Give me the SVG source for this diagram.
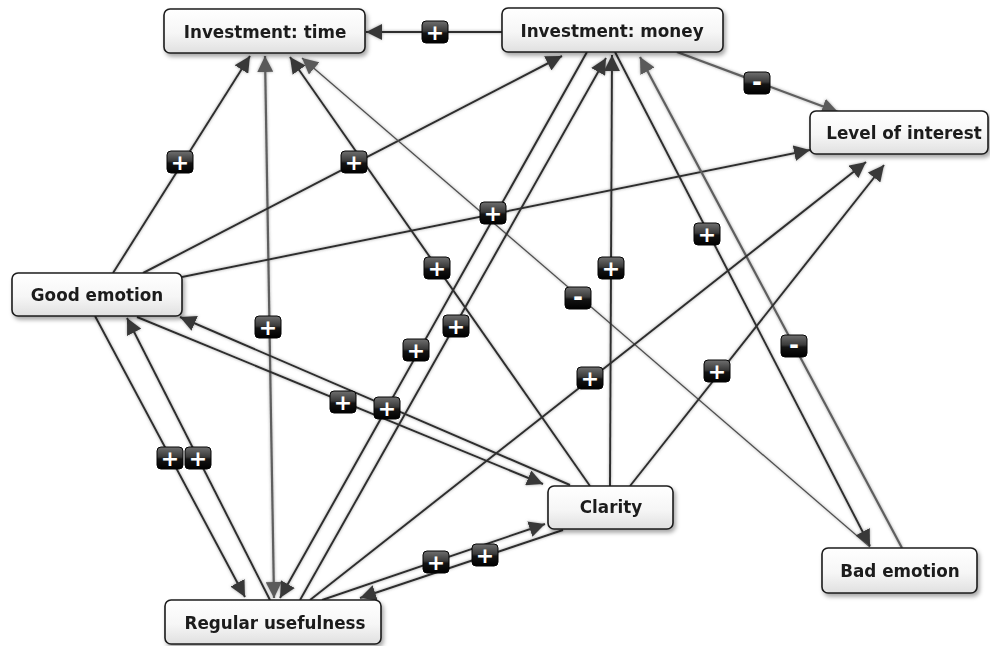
<svg xmlns="http://www.w3.org/2000/svg" width="990" height="646" viewBox="0 0 990 646">
  <defs>
    <style>
      .edge { fill: none; stroke: #2e2e2e; stroke-width: 2; marker-end: url(#arrow); }
      .edge.gray { stroke: #5e5e5e; stroke-width: 2.2; marker-end: url(#arrowGray); }
      .edge.thin { stroke: #505050; stroke-width: 1.3; marker-end: url(#arrowGray); }
      .edge.both { marker-start: url(#arrowGray); }
      .node rect { fill: url(#nodeFill); stroke: #1c1c1c; stroke-width: 1.6; }
      .node text { font-family: "DejaVu Sans", Verdana, sans-serif; font-weight: bold; font-size: 16.8px; fill: #1b1b1b; text-anchor: middle; }
      .badge rect { fill: url(#badgeFill); stroke: #050505; stroke-width: 1; }
      .badge text { font-family: "DejaVu Sans", sans-serif; font-weight: bold; font-size: 22px; fill: #fff; text-anchor: middle; }
      .badge text.minus { font-size: 24px; }
    </style>
    <linearGradient id="nodeFill" x1="0" y1="0" x2="0" y2="1">
      <stop offset="0" stop-color="#ffffff"/>
      <stop offset="0.55" stop-color="#f6f6f6"/>
      <stop offset="1" stop-color="#e0e0e0"/>
    </linearGradient>
    <linearGradient id="badgeFill" x1="0" y1="0" x2="0" y2="1">
      <stop offset="0" stop-color="#707070"/>
      <stop offset="0.45" stop-color="#3a3a3a"/>
      <stop offset="0.55" stop-color="#141414"/>
      <stop offset="1" stop-color="#000"/>
    </linearGradient>
    <filter id="halo" x="-5%" y="-5%" width="110%" height="110%">
      <feGaussianBlur in="SourceAlpha" stdDeviation="1.5" result="b"/>
      <feFlood flood-color="#8a8a8a" flood-opacity="0.8"/>
      <feComposite in2="b" operator="in" result="g"/>
      <feMerge><feMergeNode in="g"/><feMergeNode in="SourceGraphic"/></feMerge>
    </filter>
    <filter id="shadow" x="-10%" y="-20%" width="125%" height="150%">
      <feDropShadow dx="2" dy="3" stdDeviation="2" flood-color="#000" flood-opacity="0.35"/>
    </filter>
    <marker id="arrow" markerUnits="userSpaceOnUse" markerWidth="18" markerHeight="16" refX="16" refY="8" orient="auto-start-reverse">
      <path d="M0,0 L16,8 L0,16 z" fill="#383838"/>
    </marker>
    <marker id="arrowGray" markerUnits="userSpaceOnUse" markerWidth="18" markerHeight="16" refX="16" refY="8" orient="auto-start-reverse">
      <path d="M0,0 L16,8 L0,16 z" fill="#5a5a5a"/>
    </marker>
  </defs>

  <rect width="990" height="646" fill="#fff"/>

  <!-- connectors -->
  <g id="connectors" filter="url(#halo)">
    <path class="edge" d="M502,32 L366,32"/>
    <path class="edge gray" d="M677,52 L838,112"/>
    <path class="edge" d="M113,273 L250,56"/>
    <path class="edge gray both" d="M274,598 L265,56"/>
    <path class="edge" d="M590,486 L290,57"/>
    <path class="edge" d="M143,273 L562,56"/>
    <path class="edge" d="M182,277 L810,150"/>
    <path class="edge thin" d="M870,547 L302,58"/>
    <path class="edge" d="M610,486 L612,55"/>
    <path class="edge" d="M615,52 L870,546"/>
    <path class="edge gray" d="M902,548 L640,57"/>
    <path class="edge" d="M587,52 L280,598"/>
    <path class="edge" d="M300,600 L606,58"/>
    <path class="edge" d="M310,600 L866,162"/>
    <path class="edge" d="M630,486 L884,165"/>
    <path class="edge" d="M137,317 L543,484"/>
    <path class="edge" d="M570,485 L180,317"/>
    <path class="edge" d="M95,316 L245,597"/>
    <path class="edge" d="M270,600 L127,318"/>
    <path class="edge" d="M322,600 L545,524"/>
    <path class="edge" d="M563,530 L360,598"/>
  </g>

  <!-- polarity badges on the connectors -->
  <g id="badges">
    <g class="badge" transform="translate(435,32)"><rect x="-13" y="-11" width="26" height="22" rx="4"/><text y="8">+</text></g>
    <g class="badge" transform="translate(757,83)"><rect x="-13" y="-11" width="26" height="22" rx="4"/><text class="minus" y="7">-</text></g>
    <g class="badge" transform="translate(180,162)"><rect x="-13" y="-11" width="26" height="22" rx="4"/><text y="8">+</text></g>
    <g class="badge" transform="translate(268,327)"><rect x="-13" y="-11" width="26" height="22" rx="4"/><text y="8">+</text></g>
    <g class="badge" transform="translate(437,268)"><rect x="-13" y="-11" width="26" height="22" rx="4"/><text y="8">+</text></g>
    <g class="badge" transform="translate(354,162)"><rect x="-13" y="-11" width="26" height="22" rx="4"/><text y="8">+</text></g>
    <g class="badge" transform="translate(493,213)"><rect x="-13" y="-11" width="26" height="22" rx="4"/><text y="8">+</text></g>
    <g class="badge" transform="translate(578,298)"><rect x="-13" y="-11" width="26" height="22" rx="4"/><text class="minus" y="7">-</text></g>
    <g class="badge" transform="translate(611,268)"><rect x="-13" y="-11" width="26" height="22" rx="4"/><text y="8">+</text></g>
    <g class="badge" transform="translate(707,234)"><rect x="-13" y="-11" width="26" height="22" rx="4"/><text y="8">+</text></g>
    <g class="badge" transform="translate(794,346)"><rect x="-13" y="-11" width="26" height="22" rx="4"/><text class="minus" y="7">-</text></g>
    <g class="badge" transform="translate(416,350)"><rect x="-13" y="-11" width="26" height="22" rx="4"/><text y="8">+</text></g>
    <g class="badge" transform="translate(456,326)"><rect x="-13" y="-11" width="26" height="22" rx="4"/><text y="8">+</text></g>
    <g class="badge" transform="translate(590,378)"><rect x="-13" y="-11" width="26" height="22" rx="4"/><text y="8">+</text></g>
    <g class="badge" transform="translate(717,371)"><rect x="-13" y="-11" width="26" height="22" rx="4"/><text y="8">+</text></g>
    <g class="badge" transform="translate(343,402)"><rect x="-13" y="-11" width="26" height="22" rx="4"/><text y="8">+</text></g>
    <g class="badge" transform="translate(387,408)"><rect x="-13" y="-11" width="26" height="22" rx="4"/><text y="8">+</text></g>
    <g class="badge" transform="translate(170,458)"><rect x="-13" y="-11" width="26" height="22" rx="4"/><text y="8">+</text></g>
    <g class="badge" transform="translate(198,458)"><rect x="-13" y="-11" width="26" height="22" rx="4"/><text y="8">+</text></g>
    <g class="badge" transform="translate(436,562)"><rect x="-13" y="-11" width="26" height="22" rx="4"/><text y="8">+</text></g>
    <g class="badge" transform="translate(485,555)"><rect x="-13" y="-11" width="26" height="22" rx="4"/><text y="8">+</text></g>
  </g>

  <!-- nodes -->
  <g id="investment-time" class="node" filter="url(#shadow)">
    <rect x="164" y="9" width="201" height="44" rx="6"/>
    <text x="265" y="38">Investment: time</text>
  </g>
  <g id="investment-money" class="node" filter="url(#shadow)">
    <rect x="502" y="8" width="221" height="44" rx="6"/>
    <text x="612" y="37">Investment: money</text>
  </g>
  <g id="level-of-interest" class="node" filter="url(#shadow)">
    <rect x="810" y="111" width="178" height="43" rx="6"/>
    <text x="904" y="139">Level of interest</text>
  </g>
  <g id="good-emotion" class="node" filter="url(#shadow)">
    <rect x="12" y="273" width="170" height="43" rx="6"/>
    <text x="97" y="301">Good emotion</text>
  </g>
  <g id="clarity" class="node" filter="url(#shadow)">
    <rect x="548" y="486" width="125" height="43" rx="6"/>
    <text x="611" y="513">Clarity</text>
  </g>
  <g id="regular-usefulness" class="node" filter="url(#shadow)">
    <rect x="165" y="600" width="216" height="44" rx="6"/>
    <text x="275" y="629">Regular usefulness</text>
  </g>
  <g id="bad-emotion" class="node" filter="url(#shadow)">
    <rect x="822" y="548" width="155" height="45" rx="6"/>
    <text x="900" y="577">Bad emotion</text>
  </g>
</svg>
